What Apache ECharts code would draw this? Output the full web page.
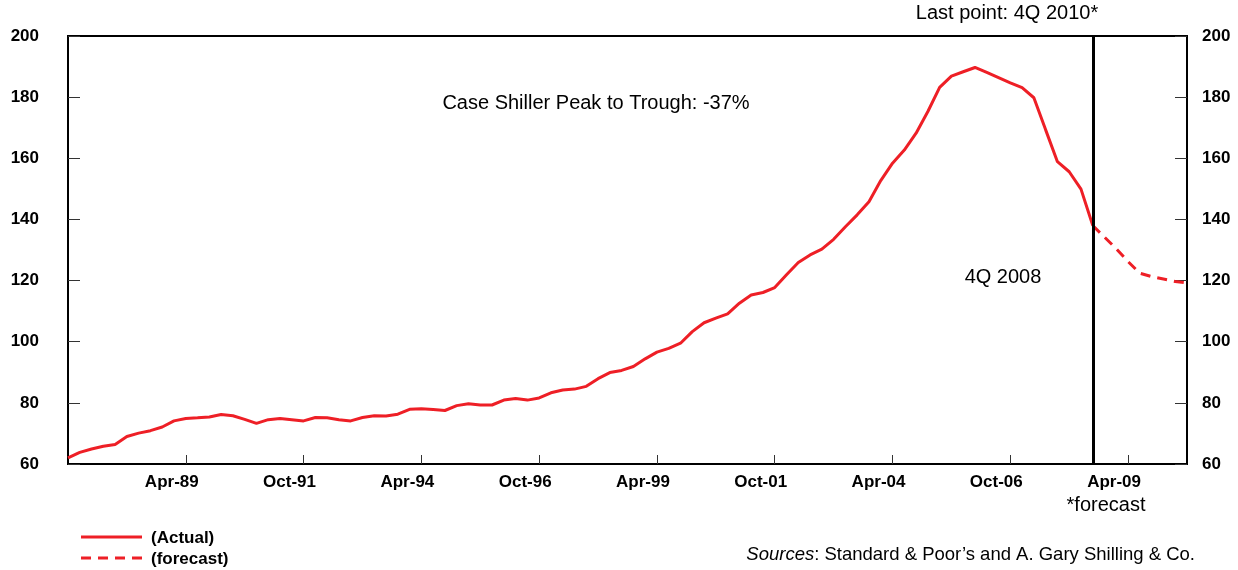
<!DOCTYPE html>
<html>
<head>
<meta charset="utf-8">
<script src="https://cdn.jsdelivr.net/npm/echarts@6/dist/echarts.min.js"></script>
<style>
html,body{margin:0;padding:0;background:#fff;}
#chart{width:1238px;height:570px;}
</style>
</head>
<body>
<div id="chart"></div>
<script>
// Quarterly categories
var categories = [
 'Oct-86',
 'Jan-87','Apr-87','Jul-87','Oct-87',
 'Jan-88','Apr-88','Jul-88','Oct-88',
 'Jan-89','Apr-89','Jul-89','Oct-89',
 'Jan-90','Apr-90','Jul-90','Oct-90',
 'Jan-91','Apr-91','Jul-91','Oct-91',
 'Jan-92','Apr-92','Jul-92','Oct-92',
 'Jan-93','Apr-93','Jul-93','Oct-93',
 'Jan-94','Apr-94','Jul-94','Oct-94',
 'Jan-95','Apr-95','Jul-95','Oct-95',
 'Jan-96','Apr-96','Jul-96','Oct-96',
 'Jan-97','Apr-97','Jul-97','Oct-97',
 'Jan-98','Apr-98','Jul-98','Oct-98',
 'Jan-99','Apr-99','Jul-99','Oct-99',
 'Jan-00','Apr-00','Jul-00','Oct-00',
 'Jan-01','Apr-01','Jul-01','Oct-01',
 'Jan-02','Apr-02','Jul-02','Oct-02',
 'Jan-03','Apr-03','Jul-03','Oct-03',
 'Jan-04','Apr-04','Jul-04','Oct-04',
 'Jan-05','Apr-05','Jul-05','Oct-05',
 'Jan-06','Apr-06','Jul-06','Oct-06',
 'Jan-07','Apr-07','Jul-07','Oct-07',
 'Jan-08','Apr-08','Jul-08','Oct-08',
 'Jan-09','Apr-09','Jul-09','Oct-09',
 'Jan-10','Apr-10','Jul-10'
];

// Case-Shiller index, actual (Oct-86 .. Jul-08)
var actualValues = [
 62.0,63.8,64.9,65.8,66.4,69.0,70.1,70.9,72.1,74.1,
 74.9,75.1,75.4,76.2,75.8,74.6,73.3,74.5,74.9,74.5,
 74.1,75.2,75.1,74.5,74.1,75.2,75.8,75.7,76.3,77.9,
 78.1,77.8,77.5,79.1,79.7,79.3,79.3,80.9,81.4,80.9,
 81.6,83.3,84.2,84.5,85.4,87.9,89.9,90.6,91.9,94.4,
 96.6,97.8,99.5,103.3,106.2,107.7,109.1,112.6,115.3,116.1,
 117.7,121.9,125.9,128.4,130.3,133.5,137.6,141.5,145.8,152.7,
 158.4,162.7,168.2,175.3,183.2,186.9,188.3,189.7,188.1,186.4,
 184.7,183.1,179.8,169.3,158.9,155.6,149.9,138.0
];

// Forecast (from Jul-08 to end)
var forecastValues = [138.0,134.2,130.4,126.2,122.4,121.3,120.5,119.7,119.2];

var yTicks = {min: 60, max: 200, interval: 20};
var dividerCategory = 'Jul-08';
var legendNames = ['(Actual)', '(forecast)'];

var actualData = categories.map(function(c, i){ return i < actualValues.length ? actualValues[i] : null; });
var fStart = categories.length - forecastValues.length;
var forecastData = categories.map(function(c, i){ return i >= fStart ? forecastValues[i - fStart] : null; });

var RED = '#ee1f26';
var FONT = '"Liberation Sans", Arial, sans-serif';
var DASH = [10, 7];

function showIdx(idx){ return idx > 0 && idx % 10 === 0; }

var chart = echarts.init(document.getElementById('chart'), null, {renderer:'canvas'});
chart.setOption({
  animation: false,
  backgroundColor: '#fff',
  grid: {left: 68, right: 51, top: 36, bottom: 106, show: true, borderColor: '#000', borderWidth: 2, backgroundColor: 'transparent'},
  xAxis: {
    type: 'category', data: categories, boundaryGap: false,
    axisLine: {lineStyle: {color: '#000', width: 2}},
    axisTick: {show: true, inside: true, length: 9, interval: function(i){ return showIdx(i); }, lineStyle: {color: '#333', width: 1}},
    axisLabel: {interval: function(i){ return showIdx(i); }, margin: 10, padding: [0, 28, 0, 0],
      fontFamily: FONT, fontWeight: 'bold', fontSize: 17, color: '#000'},
    splitLine: {show: false}
  },
  yAxis: [
    {type: 'value', min: yTicks.min, max: yTicks.max, interval: yTicks.interval, position: 'left',
     axisLine: {show: true, lineStyle: {color: '#000', width: 2}},
     axisTick: {show: true, inside: true, length: 12, lineStyle: {color: '#333'}},
     axisLabel: {margin: 29, fontFamily: FONT, fontWeight: 'bold', fontSize: 17, color: '#000'},
     splitLine: {show: false}},
    {type: 'value', min: yTicks.min, max: yTicks.max, interval: yTicks.interval, position: 'right',
     axisLine: {show: true, lineStyle: {color: '#000', width: 2}},
     axisTick: {show: true, inside: true, length: 12, lineStyle: {color: '#333'}},
     axisLabel: {margin: 15, fontFamily: FONT, fontWeight: 'bold', fontSize: 17, color: '#000'},
     splitLine: {show: false}}
  ],
  series: [
    {name: legendNames[0], type: 'line', data: actualData, symbol: 'none', smooth: false,
     lineStyle: {color: RED, width: 3}, itemStyle: {color: RED},
     markLine: {silent: true, symbol: ['none','none'], label: {show: false},
       lineStyle: {color: '#000', width: 3, type: 'solid'},
       data: [{xAxis: dividerCategory}]},
     z: 3},
    {name: legendNames[1], type: 'line', data: forecastData, symbol: 'none', smooth: false,
     lineStyle: {color: RED, width: 3, type: DASH}, itemStyle: {color: RED}, z: 3}
  ],
  graphic: [
    // legend keys
    {type: 'line', shape: {x1: 81, y1: 537, x2: 142, y2: 537}, style: {stroke: RED, lineWidth: 3}},
    {type: 'line', shape: {x1: 81, y1: 558, x2: 142, y2: 558}, style: {stroke: RED, lineWidth: 3, lineDash: DASH}},
    {type: 'text', x: 151, y: 538, style: {text: legendNames[0], font: 'bold 17px ' + FONT, fill: '#000', textVerticalAlign: 'middle'}},
    {type: 'text', x: 151, y: 559, style: {text: legendNames[1], font: 'bold 17px ' + FONT, fill: '#000', textVerticalAlign: 'middle'}},
    // annotations
    {type: 'text', x: 1007, y: 13, style: {text: 'Last point: 4Q 2010*', font: '20px ' + FONT, fill: '#000', textAlign: 'center', textVerticalAlign: 'middle'}},
    {type: 'text', x: 596, y: 103, style: {text: 'Case Shiller Peak to Trough: -37%', font: '20px ' + FONT, fill: '#000', textAlign: 'center', textVerticalAlign: 'middle'}},
    {type: 'text', x: 1003, y: 277, style: {text: '4Q 2008', font: '20px ' + FONT, fill: '#000', textAlign: 'center', textVerticalAlign: 'middle'}},
    {type: 'text', x: 1106, y: 505, style: {text: '*forecast', font: '20px ' + FONT, fill: '#000', textAlign: 'center', textVerticalAlign: 'middle'}},
    {type: 'text', x: 1195, y: 555, style: {
      text: '{i|Sources}: Standard & Poor\u2019s and A. Gary Shilling & Co.',
      font: '18.5px ' + FONT, fill: '#000', textAlign: 'right', textVerticalAlign: 'middle',
      rich: {i: {fontStyle: 'italic', fontSize: 18.5, fontFamily: FONT, fill: '#000'}}}}
  ]
});
</script>
</body>
</html>
